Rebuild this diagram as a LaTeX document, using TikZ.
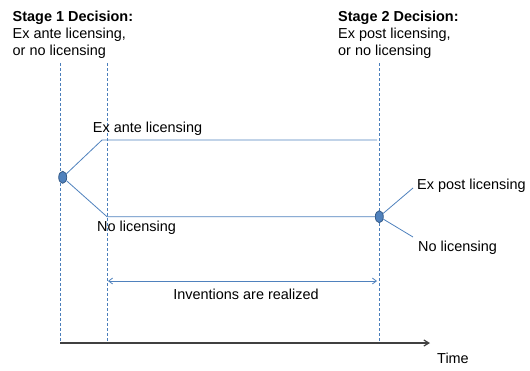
\documentclass[tikz,border=0pt]{standalone}
\usepackage{fontspec}
\setmainfont{Liberation Sans}
\usetikzlibrary{arrows.meta}
\usetikzlibrary{shapes.geometric}
\definecolor{branchblue}{HTML}{4F81BD}
\definecolor{guideblue}{HTML}{4A7EBB}
\definecolor{nodeedge}{HTML}{385D8A}
\definecolor{axisgray}{HTML}{404040}
\tikzstyle{decision}=[draw=nodeedge, fill=branchblue, ellipse, line width=0.8bp, inner sep=0, minimum width=8bp, minimum height=12bp]
\tikzstyle{branch}=[draw=branchblue, line width=0.8bp]
\tikzstyle{guide}=[draw=guideblue, line width=0.7bp, dash pattern=on 3bp off 2bp]
\tikzstyle{timeaxis}=[draw=axisgray, line width=1.2bp, -{Straight Barb[length=5bp,width=6bp]}]
\tikzstyle{realize}=[draw=branchblue, line width=0.8bp, {Straight Barb[length=4bp,width=6bp]}-{Straight Barb[length=4bp,width=6bp]}]
\tikzstyle{label}=[inner sep=0, anchor=base west, font=\fontsize{14.5}{16.7}\selectfont]

\begin{document}
\begin{tikzpicture}[x=1bp, y=-1bp]
        \useasboundingbox (0,0) rectangle (530,370);
        % stage headings (anchored on the baseline of the last line)
        \node[label, align=left] (stage1) at (12.5,55.1) {\textbf{Stage 1 Decision:}\\Ex ante licensing,\\or no licensing};
        \node[label, align=left] (stage2) at (338,55.1) {\textbf{Stage 2 Decision:}\\Ex post licensing,\\or no licensing};
        % dashed time markers
        \coordinate (t1) at (60.3,63);   \coordinate (b1) at (60.3,343);
        \coordinate (t2) at (107.3,63);  \coordinate (b2) at (107.3,343);
        \coordinate (t3) at (379.3,63);  \coordinate (b3) at (379.3,343);
        \draw[guide] (t1) -- (b1);
        \draw[guide] (t2) -- (b2);
        \draw[guide] (t3) -- (b3);
        % time axis
        \coordinate (tend) at (430,343);
        \draw[timeaxis] (b1) -- (tend);
        \node[label] (time) at (437,363) {Time};
        % decision tree
        \node[decision] (d1) at (62.7,177.3) {};
        \node[decision] (d2) at (379.3,216.7) {};
        \coordinate (a1) at (102,140);
        \coordinate (a2) at (377,140);
        \coordinate (n1) at (107,216.7);
        \coordinate (e1) at (413,188);
        \coordinate (e2) at (413,237);
        \draw[branch] (d1) -- (a1) -- (a2);
        \draw[branch] (d1) -- (n1) -- (d2);
        \draw[branch] (d2) -- (e1);
        \draw[branch] (d2) -- (e2);
        \node[label] (exante) at (92.7,132.7) {Ex ante licensing};
        \node[label] (nolic1) at (97,231) {No licensing};
        \node[label] (expost) at (417,189) {Ex post licensing};
        \node[label] (nolic2) at (418,251) {No licensing};
        % realization period
        \coordinate (r1) at (108,281);
        \coordinate (r2) at (377,281);
        \draw[realize] (r1) -- (r2);
        \node[label, anchor=base] (realized) at (246,299) {Inventions are realized};
\end{tikzpicture}
\end{document}
